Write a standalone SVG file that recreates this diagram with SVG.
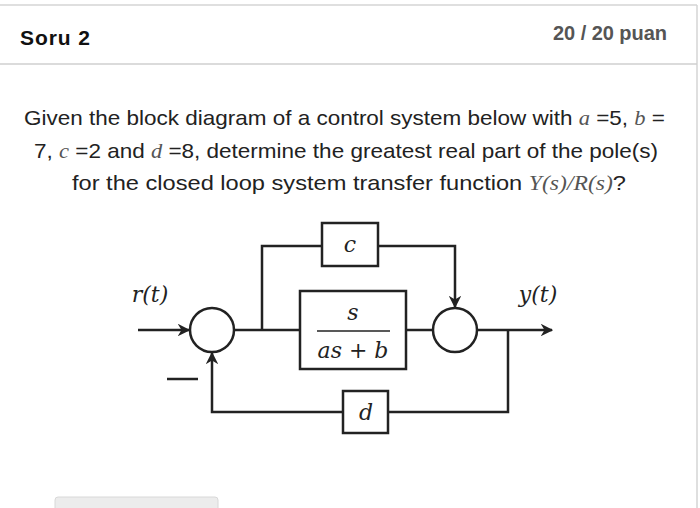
<svg xmlns="http://www.w3.org/2000/svg" width="700" height="508" viewBox="0 0 700 508">
<defs>
<style>
.t{font-family:"Liberation Sans",Arial,sans-serif;font-size:21px;fill:#222}
.m{font-family:"Liberation Serif","DejaVu Serif",serif;font-style:italic;fill:#555}
.d{font-family:"DejaVu Serif","Liberation Serif",serif;font-style:italic;font-size:22px;fill:#222}
.l{fill:none;stroke:#222;stroke-width:2.5}
.b{fill:#fff;stroke:#222;stroke-width:2.5}
</style>
<marker id="ar" viewBox="0 0 10 10" refX="9" refY="5" markerWidth="5" markerHeight="5" orient="auto"><path d="M0,0 L10,5 L0,10 L3,5 z" fill="#222"/></marker>
</defs>
<rect width="700" height="508" fill="#fff"/>
<line x1="0" y1="5" x2="697" y2="5" stroke="#d4d4d4" stroke-width="1.5"/>
<line x1="697" y1="5" x2="697" y2="508" stroke="#d4d4d4" stroke-width="1.5"/>
<line x1="0" y1="64" x2="697" y2="64" stroke="#cfcfcf" stroke-width="1.5"/>
<text x="20" y="45" class="t" font-weight="bold" style="fill:#111" textLength="70">Soru 2</text>
<text x="553" y="40" class="t" font-weight="bold" style="fill:#555;font-size:20px" textLength="114">20 / 20 puan</text>
<text x="24" y="125" class="t" textLength="641" lengthAdjust="spacingAndGlyphs">Given the block diagram of a control system below with <tspan class="m">a</tspan> =5,  <tspan class="m">b</tspan> =</text>
<text x="34" y="158" class="t" textLength="624" lengthAdjust="spacingAndGlyphs">7, <tspan class="m">c</tspan> =2 and <tspan class="m">d</tspan> =8, determine the greatest real part of the pole(s)</text>
<text x="72" y="190" class="t" textLength="554" lengthAdjust="spacingAndGlyphs">for the closed loop system transfer function <tspan class="m">Y</tspan><tspan class="m" font-style="normal">(</tspan><tspan class="m">s</tspan><tspan class="m" font-style="normal">)/</tspan><tspan class="m">R</tspan><tspan class="m" font-style="normal">(</tspan><tspan class="m">s</tspan><tspan class="m" font-style="normal">)</tspan>?</text>
<g id="connectors">
<path class="l" d="M138,330 H189" marker-end="url(#ar)"/>
<path class="l" d="M234,330 H300"/>
<path class="l" d="M262,330 V246 H322"/>
<path class="l" d="M378,246 H455 V307" marker-end="url(#ar)"/>
<path class="l" d="M406,330 H433"/>
<path class="l" d="M477,330 H552" marker-end="url(#ar)"/>
<path class="l" d="M508,330 V412 H388"/>
<path class="l" d="M343,412 H212 V353" marker-end="url(#ar)"/>
<line x1="167" y1="379" x2="198" y2="379" stroke="#222" stroke-width="2.5"/>
</g>
<g id="sum1"><circle class="b" cx="212" cy="330" r="22"/></g>
<g id="sum2"><circle class="b" cx="455" cy="330" r="22"/></g>
<g id="c"><rect class="b" x="322" y="223" width="56" height="43"/><text x="350" y="252" class="d" text-anchor="middle">c</text></g>
<g id="g"><rect class="b" x="300" y="291" width="106" height="78"/><text x="353" y="320" class="d" text-anchor="middle">s</text><line x1="317" y1="331" x2="390" y2="331" stroke="#222" stroke-width="1.5"/><text x="353" y="358" class="d" text-anchor="middle">as + b</text></g>
<g id="dblk"><rect class="b" x="343" y="391" width="45" height="42"/><text x="366" y="420" class="d" text-anchor="middle">d</text></g>
<text x="150" y="302" class="d" text-anchor="middle">r(t)</text>
<text x="538" y="302" class="d" text-anchor="middle">y(t)</text>
<rect x="55" y="497" width="163" height="20" rx="3" fill="#ececec" stroke="#d8d8d8"/>
</svg>
